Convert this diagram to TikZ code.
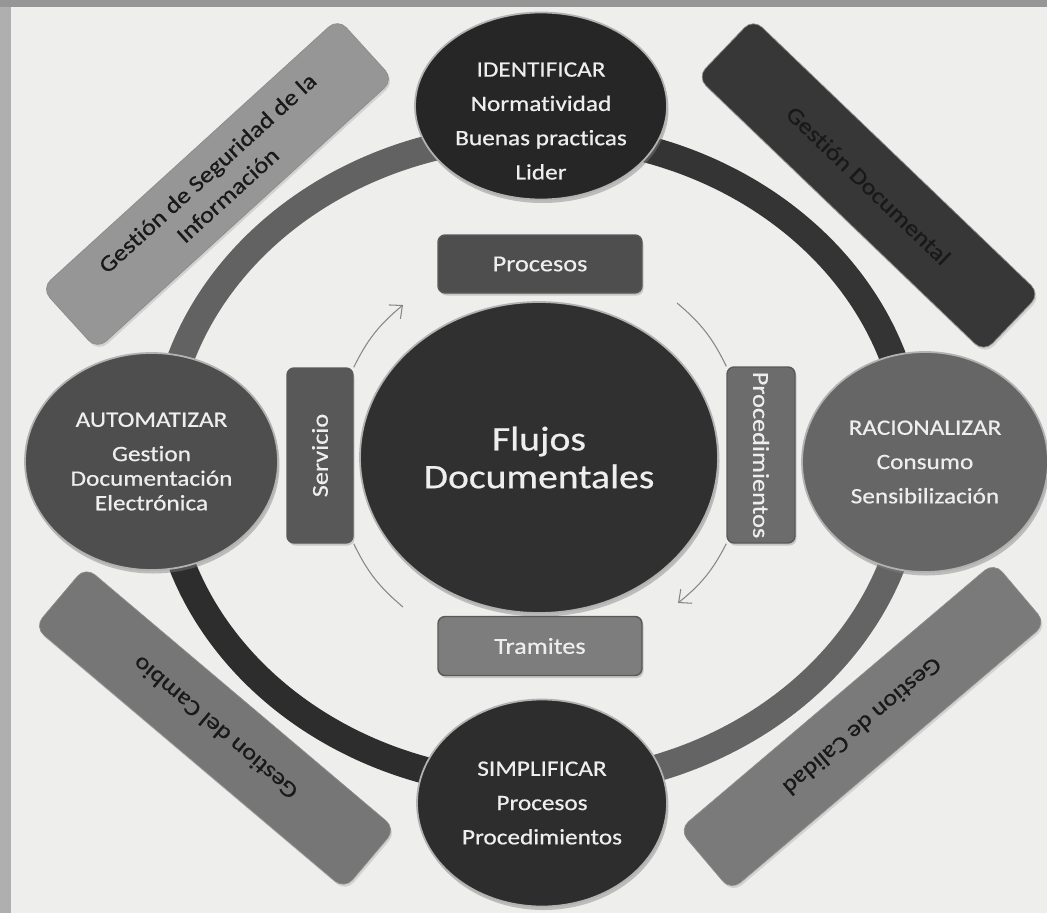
\documentclass[tikz,border=0pt]{standalone}
\usepackage{fontspec}
\setmainfont{Carlito}[FakeStretch=1.15, FakeBold=0.6, Ligatures=NoCommon]
\usetikzlibrary{shapes.geometric, arrows.meta, shadows}
\definecolor{cFondo}{RGB}{238,238,236}
\definecolor{cMarco}{RGB}{175,175,175}
\definecolor{cMarcoSup}{RGB}{150,150,150}
\definecolor{cTexto}{RGB}{238,238,238}
\definecolor{cFlecha}{RGB}{135,135,135}
% anillo
\definecolor{cAnNE}{RGB}{52,52,52}
\definecolor{cAnNW}{RGB}{98,98,98}
\definecolor{cAnSW}{RGB}{45,45,45}
\definecolor{cAnSE}{RGB}{100,100,100}
% circulos
\definecolor{cIdent}{RGB}{38,38,38}
\definecolor{cAuto}{RGB}{78,78,78}
\definecolor{cRacio}{RGB}{102,102,102}
\definecolor{cSimpl}{RGB}{45,45,45}
\definecolor{cCentro}{RGB}{48,48,48}
% tarjetas
\definecolor{cProc}{RGB}{78,78,78}
\definecolor{cTram}{RGB}{125,125,125}
\definecolor{cServ}{RGB}{88,88,88}
\definecolor{cProcd}{RGB}{108,108,108}
% franjas diagonales
\definecolor{cSegu}{RGB}{150,150,150}
\definecolor{cDocu}{RGB}{55,55,55}
\definecolor{cCamb}{RGB}{118,118,118}
\definecolor{cCali}{RGB}{122,122,122}
\tikzset{
	etapa/.style   ={ellipse, draw=white!70!black, line width=1pt, inner sep=0pt, align=center, text=cTexto, font=\fontsize{12.5}{19.5}\selectfont, drop shadow={opacity=0.45, shadow xshift=0.03cm, shadow yshift=-0.07cm}},
	etapatxt/.style={align=center, text=cTexto, font=\fontsize{12.5}{19.5}\selectfont},
	tarjeta/.style ={rectangle, rounded corners=4pt, draw=black!65, thick, inner sep=1pt, text=cTexto, font=\fontsize{13}{16}\selectfont, drop shadow={opacity=0.35, shadow xshift=0.03cm, shadow yshift=-0.05cm}},
	franja/.style  ={rectangle, rounded corners=7pt, draw=black!45, align=center, inner sep=2pt, text=black!90, font=\fontsize{13}{17}\selectfont, drop shadow={opacity=0.25, shadow xshift=0.03cm, shadow yshift=-0.05cm}},
	anillo/.style  ={line width=0.54cm},
	flecha/.style  ={draw=cFlecha, line width=0.6pt},
	punta/.style   ={-{Straight Barb[length=2mm, width=3.6mm]}},
}
\begin{document}
\begin{tikzpicture}
	\fill[cFondo] (0,0) rectangle (20.94,18.26);
	\useasboundingbox (0,0) rectangle (20.94,18.26);
	\fill[cMarco] (0,0) rectangle (0.22,18.26);
	\fill[cMarcoSup] (0,18.12) rectangle (20.94,18.26);

	% franjas diagonales
	\node[franja, fill=cSegu, rotate=42.3, minimum width=8.02cm, minimum height=1.65cm] (segur) at (4.35,14.58) {Gestión de Seguridad de la\\Información};
	\node[franja, fill=cDocu, rotate=-43.8, minimum width=7.95cm, minimum height=1.62cm] (documental) at (17.37,14.55) {Gestión Documental};
	\node[franja, fill=cCamb, rotate=139.8, minimum width=8.12cm, minimum height=1.58cm] (cambio) at (4.30,3.70) {Gestion del Cambio};
	\node[franja, fill=cCali, rotate=-139.7, minimum width=8.26cm, minimum height=1.6cm] (calidad) at (17.25,3.73) {Gestion de Calidad};

	% anillo, un color por cuadrante
	\foreach \a/\c in {0/cAnNE, 90/cAnNW, 180/cAnSW, 270/cAnSE}
		\draw[anillo, draw=\c, shift={(10.74,9.06)}] (\a:7.5 and 6.5) arc[start angle=\a, delta angle=90, x radius=7.5, y radius=6.5];

	% etapas
	\node[etapa, fill=cIdent, minimum width=5.04cm, minimum height=3.74cm] (identif) at (10.82,16.14) {};
	\node[etapatxt] (identiftxt) at ([yshift=-0.3cm]identif.center) {IDENTIFICAR\\Normatividad\\Buenas practicas\\Lider};
	\node[etapa, fill=cAuto, minimum width=5.06cm, minimum height=4.34cm] (automat) at (3.03,9.03) {AUTOMATIZAR\\Gestion\\[-5.5pt]Documentación\\[-5.5pt]Electrónica};
	\node[etapa, fill=cRacio, minimum width=4.92cm, minimum height=4.4cm] (racional) at (18.50,9.02) {RACIONALIZAR\\Consumo\\Sensibilización};
	\node[etapa, fill=cSimpl, minimum width=5.0cm, minimum height=4.14cm] (simplif) at (10.84,2.20) {SIMPLIFICAR\\Procesos\\Procedimientos};
	\node[etapa, fill=cCentro, minimum width=7.16cm, minimum height=6.22cm, font=\fontsize{19.6}{21.5}\selectfont] (flujos) at (10.78,9.11) {Flujos\\Documentales};

	% tarjetas internas
	\node[tarjeta, fill=cProc, minimum width=4.08cm, minimum height=1.16cm] (procesos) at (10.80,12.98) {Procesos};
	\node[tarjeta, fill=cTram, minimum width=4.08cm, minimum height=1.18cm] (tramites) at (10.80,5.34) {Tramites};
	\node[tarjeta, fill=cServ, rotate=90, minimum width=3.5cm, minimum height=1.32cm] (servicio) at (6.40,9.15) {Servicio};
	\node[tarjeta, fill=cProcd, rotate=-90, minimum width=3.52cm, minimum height=1.36cm] (procedim) at (15.22,9.16) {Procedimientos};

	% flechas del ciclo
	\coordinate (c1) at (8.06,12.16);
	\coordinate (c2) at (13.54,12.20);
	\coordinate (c3) at (13.56,6.20);
	\coordinate (c4) at (8.06,6.12);
	\draw[flecha, punta] (servicio.south east) to[bend left=12] (c1);
	\draw[flecha] (c2) to[bend left=12] (procedim.south west);
	\draw[flecha, punta] (procedim.south east) to[bend left=12] (c3);
	\draw[flecha] (servicio.south west) to[bend right=12] (c4);
\end{tikzpicture}
\end{document}
